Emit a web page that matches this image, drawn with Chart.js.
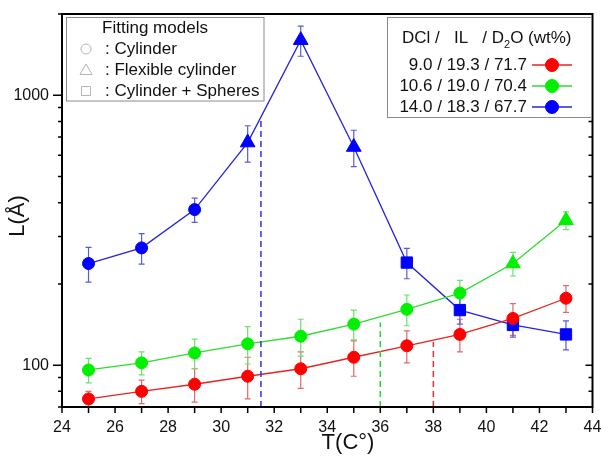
<!DOCTYPE html>
<html>
<head>
<meta charset="utf-8">
<script src="https://cdn.jsdelivr.net/npm/chart.js@4"></script>
<style>
  html, body { margin: 0; padding: 0; background: #fff; }
  #wrap { width: 602px; height: 458px; }
</style>
</head>
<body>
<div id="wrap"><canvas id="chart" width="602" height="458"></canvas></div>
<script>
// Data
const temps = [25, 27, 29, 31, 33, 35, 37, 39, 41, 43];
const lenRed = [75, 80, 85, 91, 97, 107, 118, 130, 149, 177];
const errRed = [5, 8, 12, 16, 15, 16, 16, 18, 20, 20];
const lenGreen = [96, 102, 111, 120, 128, 142, 161, 185, 238, 344];
const errGreen = [10, 10, 14, 19, 20, 18, 21, 21, 24, 26];
const lenBlue = [238, 272, 377, 668, 1600, 643, 240, 160, 141, 130];
const errBlue = [35, 35, 39, 103, 205, 99, 31, 18, 14, 16];

// fitting model used for each point (c = cylinder, f = flexible cylinder, s = cylinder + spheres)
const modelRed = ["c", "c", "c", "c", "c", "c", "c", "c", "c", "c"];
const modelGreen = ["c", "c", "c", "c", "c", "c", "c", "c", "f", "f"];
const modelBlue = ["c", "c", "c", "f", "f", "f", "s", "s", "s", "s"];

// transition temperatures (dashed lines)
const transT = [38, 36, 31.5];
const transL = [122, 144, 810];

const seriesNames = ["9.0 / 19.3 / 71.7", "10.6 / 19.0 / 70.4", "14.0 / 18.3 / 67.7"];
const xTickLabels = [24, 26, 28, 30, 32, 34, 36, 38, 40, 42, 44];
const yTickLabels = [100, 1000];
const yMinorTicks = [70, 80, 90, 200, 300, 400, 500, 600, 700, 800, 900, 2000];

const FONT = "'Liberation Sans', Arial, sans-serif";
const styleOf = { c: "circle", f: "triangle", s: "rect" };
const radiusOf = { c: 6, f: 8.5, s: 8 };

const colors = [
  { mark: "#ff0000", line: "#e8231d", err: "#e06a6a" },
  { mark: "#00f000", line: "#2edc2e", err: "#6ede6e" },
  { mark: "#0000ff", line: "#2424dd", err: "#5a5ad8" }
];

function makeSet(vals, errs, models, c) {
  return {
    data: temps.map((t, i) => ({ x: t, y: vals[i] })),
    errs: errs,
    borderColor: c.line,
    borderWidth: 1.3,
    pointBackgroundColor: c.mark,
    pointBorderColor: c.mark,
    pointBorderWidth: 1,
    pointStyle: models.map(m => styleOf[m]),
    pointRadius: models.map(m => radiusOf[m]),
    errColor: c.err,
    tension: 0
  };
}

function dashSet(t, l, col) {
  return {
    data: [{ x: t, y: 70 }, { x: t, y: l }],
    borderColor: col,
    borderWidth: 1.5,
    borderDash: [6, 4],
    pointRadius: 0
  };
}

const errorBars = {
  id: "errorBars",
  beforeDatasetsDraw(chart) {
    const { ctx, chartArea, scales } = chart;
    ctx.save();
    ctx.beginPath();
    ctx.rect(chartArea.left, chartArea.top, chartArea.right - chartArea.left, chartArea.bottom - chartArea.top);
    ctx.clip();
    chart.data.datasets.forEach(ds => {
      if (!ds.errs) return;
      ctx.strokeStyle = ds.errColor;
      ctx.lineWidth = 1.2;
      ds.data.forEach((p, i) => {
        const x = scales.x.getPixelForValue(p.x);
        const y1 = scales.y.getPixelForValue(p.y - ds.errs[i]);
        const y2 = scales.y.getPixelForValue(p.y + ds.errs[i]);
        ctx.beginPath();
        ctx.moveTo(x, y1); ctx.lineTo(x, y2);
        ctx.moveTo(x - 3, y1); ctx.lineTo(x + 3, y1);
        ctx.moveTo(x - 3, y2); ctx.lineTo(x + 3, y2);
        ctx.stroke();
      });
    });
    ctx.restore();
  }
};

function marker(ctx, style, x, y, r, fill, stroke) {
  ctx.beginPath();
  if (style === "circle") {
    ctx.arc(x, y, r, 0, Math.PI * 2);
  } else if (style === "triangle") {
    ctx.moveTo(x, y - r);
    ctx.lineTo(x + r * 0.866, y + r * 0.5);
    ctx.lineTo(x - r * 0.866, y + r * 0.5);
    ctx.closePath();
  } else {
    ctx.rect(x - r, y - r, 2 * r, 2 * r);
  }
  if (fill) { ctx.fillStyle = fill; ctx.fill(); }
  if (stroke) { ctx.strokeStyle = stroke; ctx.stroke(); }
}

const frame = {
  id: "frame",
  afterDraw(chart) {
    const { ctx, chartArea: a, scales } = chart;
    const xl = scales.x.getPixelForValue(24), xr = scales.x.getPixelForValue(44);
    const yt = scales.y.getPixelForValue(2000), yb = scales.y.getPixelForValue(70);
    ctx.save();
    // axis box
    ctx.strokeStyle = "#000";
    ctx.lineWidth = 2;
    ctx.strokeRect(xl, yt, xr - xl, yb - yt);

    // x ticks (outward)
    ctx.lineWidth = 1.5;
    ctx.beginPath();
    for (let t = 24; t <= 44; t++) {
      const x = scales.x.getPixelForValue(t);
      ctx.moveTo(x, yb); ctx.lineTo(x, yb + 6);
    }
    // y ticks: left outward, right inward
    yTickLabels.concat(yMinorTicks).forEach(v => {
      const y = scales.y.getPixelForValue(v);
      const major = yTickLabels.includes(v);
      ctx.moveTo(xl, y); ctx.lineTo(xl - (major ? 9 : 4), y);
      ctx.moveTo(xr, y); ctx.lineTo(xr - (major ? 7 : 4), y);
    });
    ctx.stroke();

    // axis titles
    ctx.fillStyle = "#111";
    ctx.font = "22px " + FONT;
    ctx.textAlign = "center";
    ctx.textBaseline = "middle";
    ctx.fillText("T(C°)", 348, 443);
    ctx.save();
    ctx.translate(18, 216);
    ctx.rotate(-Math.PI / 2);
    ctx.fillText("L(Å)", 0, 0);
    ctx.restore();

    // fitting models box
    ctx.lineWidth = 1;
    ctx.strokeStyle = "#8a8a8a";
    ctx.fillStyle = "#fff";
    ctx.fillRect(66.5, 17.5, 197.5, 83.5);
    ctx.strokeRect(66.5, 17.5, 197.5, 83.5);
    ctx.fillStyle = "#111";
    ctx.font = "17px " + FONT;
    ctx.textAlign = "center";
    ctx.fillText("Fitting models", 155, 28);
    ctx.textAlign = "left";
    const rows = [[": Cylinder", "circle", 5], [": Flexible cylinder", "triangle", 7], [": Cylinder + Spheres", "rect", 4.5]];
    rows.forEach((r, i) => {
      const y = 49 + i * 21;
      ctx.fillStyle = "#111";
      ctx.fillText(r[0], 105, y);
      ctx.lineWidth = 1;
      marker(ctx, r[1], 86, y + (r[1] === "triangle" ? 1 : 0), r[2], null, "#b5b5b5");
    });

    // composition box
    ctx.strokeStyle = "#8a8a8a";
    ctx.fillStyle = "#fff";
    ctx.fillRect(387.5, 17.5, 204, 100);
    ctx.strokeRect(387.5, 17.5, 204, 100);
    ctx.fillStyle = "#111";
    ctx.font = "17px " + FONT;
    ctx.textAlign = "left";
    let hx = 402;
    const part1 = "DCl /   IL   / D";
    ctx.fillText(part1, hx, 38);
    hx += ctx.measureText(part1).width;
    ctx.font = "11px " + FONT;
    ctx.fillText("2", hx, 45);
    hx += ctx.measureText("2").width;
    ctx.font = "17px " + FONT;
    ctx.fillText("O (wt%)", hx, 38);

    ctx.textAlign = "right";
    seriesNames.forEach((n, i) => {
      const y = 65 + i * 21;
      ctx.fillStyle = "#111";
      ctx.fillText(n, 527, y);
      ctx.strokeStyle = colors[i].line;
      ctx.lineWidth = 1.3;
      ctx.beginPath();
      ctx.moveTo(532, y); ctx.lineTo(572, y);
      ctx.stroke();
      ctx.lineWidth = 1;
      marker(ctx, "circle", 552, y, 6.5, colors[i].mark, colors[i].mark);
    });
    ctx.restore();
  }
};

new Chart(document.getElementById("chart"), {
  type: "line",
  data: {
    datasets: [
      dashSet(transT[0], transL[0], "#e03030"),
      dashSet(transT[1], transL[1], "#30d030"),
      dashSet(transT[2], transL[2], "#3030e0"),
      makeSet(lenRed, errRed, modelRed, colors[0]),
      makeSet(lenGreen, errGreen, modelGreen, colors[1]),
      makeSet(lenBlue, errBlue, modelBlue, colors[2])
    ]
  },
  options: {
    responsive: false,
    animation: false,
    layout: { padding: { top: 14, right: 9, left: 0, bottom: 0 } },
    plugins: { legend: { display: false }, tooltip: { enabled: false } },
    scales: {
      x: {
        type: "linear",
        min: 24,
        max: 44,
        grid: { display: false, drawTicks: false },
        border: { display: false },
        afterBuildTicks: s => { s.ticks = xTickLabels.map(v => ({ value: v })); },
        afterFit: s => { s.height = 51; s.paddingLeft = 0; s.paddingRight = 0; },
        ticks: { color: "#111", font: { size: 16, family: FONT }, padding: 11, maxRotation: 0 }
      },
      y: {
        type: "logarithmic",
        min: 70,
        max: 2000,
        grid: { display: false, drawTicks: false },
        border: { display: false },
        afterBuildTicks: s => { s.ticks = yTickLabels.map(v => ({ value: v })); },
        afterFit: s => { s.width = 62; s.paddingTop = 0; s.paddingBottom = 0; },
        ticks: { color: "#111", font: { size: 16, family: FONT }, padding: 13, callback: v => String(v) }
      }
    }
  },
  plugins: [errorBars, frame]
});
</script>
</body>
</html>
